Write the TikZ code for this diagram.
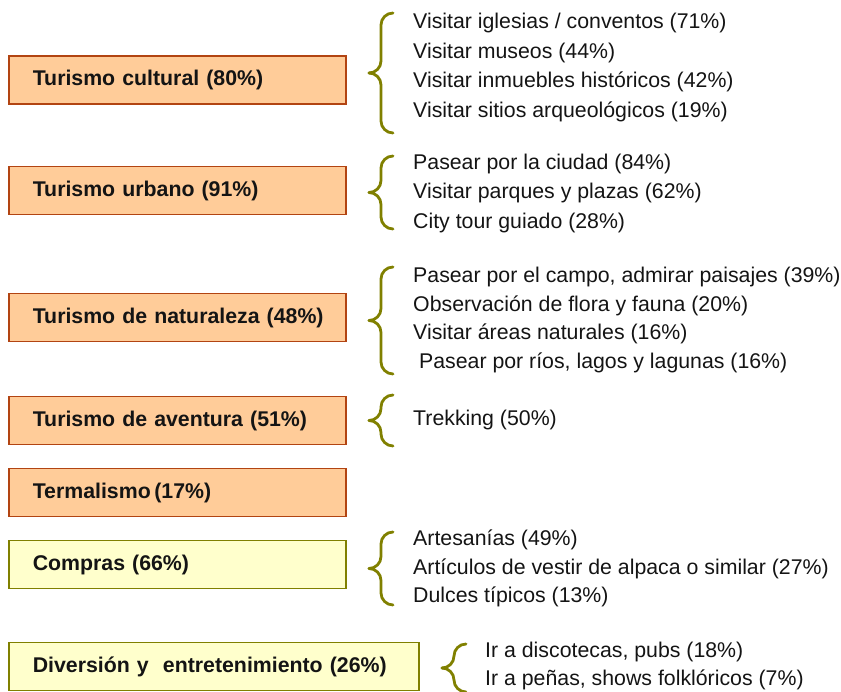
\documentclass[tikz,border=0pt]{standalone}
\usepackage{fontspec}
\setmainfont{Liberation Sans}
\usetikzlibrary{positioning}
\definecolor{naranja}{RGB}{255,204,153}
\definecolor{borde}{RGB}{178,68,18}
\definecolor{crema}{RGB}{255,255,204}
\definecolor{oliva}{RGB}{128,128,0}
\definecolor{tinta}{RGB}{20,20,20}

\begin{document}
\begin{tikzpicture}[x=1pt, y=-1pt, font=\fontsize{21.3}{29.5}\selectfont, text=tinta,
    caja/.style={draw, line width=1.6pt, minimum height=48pt, text width=313pt,
      inner xsep=12pt, inner ysep=0pt, align=left, execute at begin node=\hspace*{12pt},
      font=\fontsize{21.3}{29.5}\selectfont\bfseries, anchor=west},
    turismo/.style={caja, fill=naranja, draw=borde},
    otros/.style={caja, fill=crema, draw=oliva},
    lista/.style={inner sep=0pt, align=left, anchor=west},
    llave/.style={draw=oliva, line width=2.8pt, line cap=round, rounded corners=12pt}]
  \useasboundingbox (0,0) rectangle (841,692);

  % cajas
  \node[turismo] (cultural) at (8,80) {Turismo cultural (80\%)};
  \node[turismo] (urbano) at (8,190.5) {Turismo urbano (91\%)};
  \node[turismo] (naturaleza) at (8,317.5) {Turismo de naturaleza (48\%)};
  \node[turismo] (aventura) at (8,420.5) {Turismo de aventura (51\%)};
  \node[turismo] (termalismo) at (8,492.5) {Termalismo\,(17\%)};
  \node[otros] (compras) at (8,564.5) {Compras (66\%)};
  \node[otros, text width=386pt] (diversion) at (8,666.5) {Diversi\'on y\ \ entretenimiento (26\%)};

  % llaves
  \foreach \xe/\yt/\yb in {393/13/133, 393/156/229, 393/267/374, 393/395/446, 393/532/605, 466/644/692} {
    \pgfmathsetmacro\ym{(\yt+\yb)/2}
    \draw[llave] (\xe,\yt) -- (\xe-12,\yt) -- (\xe-12,\ym) -- (\xe-24,\ym);
    \draw[llave] (\xe-24,\ym) -- (\xe-12,\ym) -- (\xe-12,\yb) -- (\xe,\yb);
  }

  % listas
  \node[lista] (l-cultural) at (413,67.5) {Visitar iglesias / conventos (71\%)\\
    Visitar museos (44\%)\\ Visitar inmuebles hist\'oricos (42\%)\\ Visitar sitios arqueol\'ogicos (19\%)};
  \node[lista] (l-urbano) at (413,193) {Pasear por la ciudad (84\%)\\
    Visitar parques y plazas (62\%)\\ City tour guiado (28\%)};
  \node[lista, font=\fontsize{21.3}{28.7}\selectfont] (l-naturaleza) at (413,320) {Pasear por el campo, admirar paisajes (39\%)\\
    Observaci\'on de flora y fauna (20\%)\\ Visitar \'areas naturales (16\%)\\ \ Pasear por r\'ios, lagos y lagunas (16\%)};
  \node[lista] (l-aventura) at (413,420) {Trekking (50\%)};
  \node[lista, font=\fontsize{21.3}{28.5}\selectfont] (l-compras) at (413,568.5) {Artesan\'ias (49\%)\\
    Art\'iculos de vestir de alpaca o similar (27\%)\\ Dulces t\'ipicos (13\%)};
  \node[lista, font=\fontsize{21.3}{28}\selectfont] (l-diversion) at (485,666) {Ir a discotecas, pubs (18\%)\\
    Ir a pe\~nas, shows folkl\'oricos (7\%)};
\end{tikzpicture}
\end{document}
